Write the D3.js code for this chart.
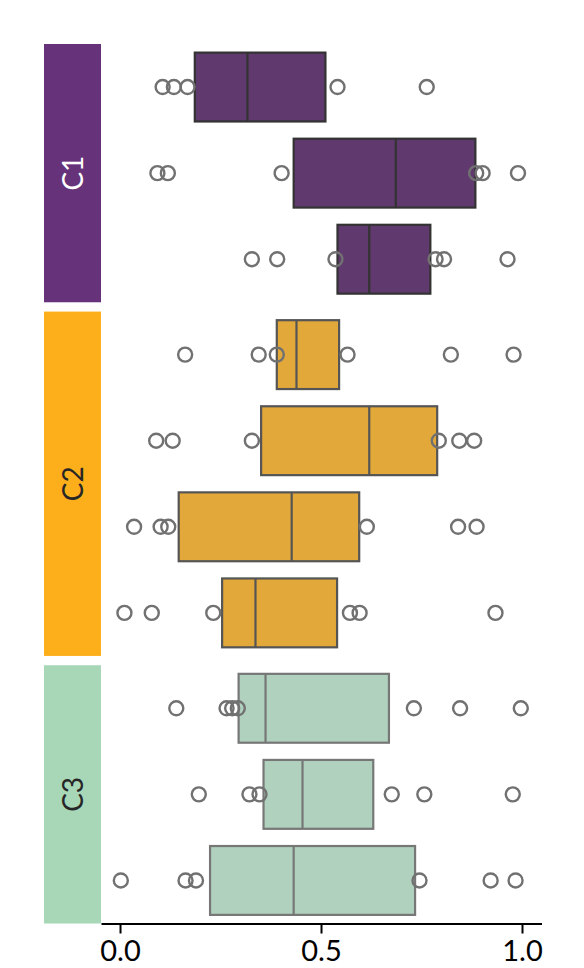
<!DOCTYPE html>
<html>
<head>
<meta charset="utf-8">
<script src="https://cdn.jsdelivr.net/npm/d3@7"></script>
<style>
  body { margin: 0; background: #fff; }
  svg { display: block; font-family: Lato, "DejaVu Sans", sans-serif; }
</style>
</head>
<body>
<div id="chart"></div>
<script>
// groups and the rows that belong to each
var groups = ["C1", "C2", "C3"];
var groupRows = [3, 4, 3];
var groupColors = ["#66327a", "#fcae1b", "#a8d7b8"];
var boxColors = ["#603a6e", "#e2a839", "#afd1bd"];
var edgeColors = ["#333333", "#555555", "#777777"];
var labelColors = ["#ffffff", "#262626", "#262626"];

// one entry per row, top to bottom
var rowGroup = [0, 0, 0, 1, 1, 1, 1, 2, 2, 2];
var q1 = [0.186, 0.432, 0.541, 0.390, 0.351, 0.146, 0.254, 0.295, 0.357, 0.224];
var median = [0.317, 0.686, 0.620, 0.439, 0.620, 0.427, 0.337, 0.362, 0.454, 0.432];
var q3 = [0.511, 0.884, 0.772, 0.545, 0.789, 0.595, 0.540, 0.669, 0.630, 0.734];
var fliers = [
  [0.106, 0.134, 0.168, 0.541, 0.763],
  [0.093, 0.119, 0.402, 0.886, 0.902, 0.990],
  [0.328, 0.391, 0.536, 0.785, 0.806, 0.964],
  [0.162, 0.345, 0.390, 0.566, 0.823, 0.979],
  [0.090, 0.131, 0.328, 0.793, 0.844, 0.881],
  [0.035, 0.101, 0.120, 0.614, 0.841, 0.887],
  [0.011, 0.079, 0.232, 0.572, 0.596, 0.934],
  [0.140, 0.265, 0.279, 0.293, 0.731, 0.846, 0.997],
  [0.196, 0.322, 0.347, 0.676, 0.757, 0.977],
  [0.002, 0.163, 0.189, 0.745, 0.922, 0.984]
];
var xTicks = [0, 0.5, 1];

var width = 584, height = 968;
var plotLeft = 101, plotRight = 541.5, plotTop = 44, plotBottom = 923.5;
var gap = 9.3, stripX = 44, stripW = 57;

var svg = d3.select("#chart").append("svg")
  .attr("width", width)
  .attr("height", height);

var x = d3.scaleLinear()
  .domain([-0.0473, 1.0485])
  .range([plotLeft, plotRight]);

// row height shared by all panels
var totalRows = d3.sum(groupRows);
var rowH = (plotBottom - plotTop - gap * (groups.length - 1)) / totalRows;

var panels = [];
var y0 = plotTop;
groups.forEach(function(g, i) {
  var h = rowH * groupRows[i];
  var idx = d3.range(rowGroup.length).filter(function(r) { return rowGroup[r] === i; });
  var band = d3.scaleBand().domain(idx).range([y0, y0 + h]).paddingInner(0).paddingOuter(0);
  panels.push({ name: g, y: y0, h: h, band: band });
  y0 += h + gap;
});

// group strips on the left
var strips = svg.append("g").selectAll("g")
  .data(panels)
  .enter().append("g");

strips.append("rect")
  .attr("x", stripX)
  .attr("y", function(d) { return d.y; })
  .attr("width", stripW)
  .attr("height", function(d) { return d.h; })
  .style("fill", function(d, i) { return groupColors[i]; });

strips.append("text")
  .attr("transform", function(d) {
    return "translate(" + (stripX + stripW / 2) + "," + (d.y + d.h / 2) + ") rotate(-90)";
  })
  .attr("text-anchor", "middle")
  .attr("dy", "0.36em")
  .style("font-size", "28px")
  .style("fill", function(d, i) { return labelColors[i]; })
  .text(function(d) { return d.name; });

// boxes
var plot = svg.append("g");
var boxW = 0.8;

rowGroup.forEach(function(gi, r) {
  var band = panels[gi].band;
  var cy = band(r) + band.bandwidth() / 2;
  var bh = band.bandwidth() * boxW;
  var row = plot.append("g");

  row.append("rect")
    .attr("x", x(q1[r]))
    .attr("y", cy - bh / 2)
    .attr("width", x(q3[r]) - x(q1[r]))
    .attr("height", bh)
    .style("fill", boxColors[gi])
    .style("stroke", edgeColors[gi])
    .style("stroke-width", 2.2);

  row.append("line")
    .attr("x1", x(median[r]))
    .attr("x2", x(median[r]))
    .attr("y1", cy - bh / 2)
    .attr("y2", cy + bh / 2)
    .style("stroke", edgeColors[gi])
    .style("stroke-width", 2.2);

  row.selectAll("circle")
    .data(fliers[r])
    .enter().append("circle")
    .attr("cx", function(d) { return x(d); })
    .attr("cy", cy)
    .attr("r", 7)
    .style("fill", "none")
    .style("stroke", "#717171")
    .style("stroke-width", 2.4);
});

// x axis
var axis = svg.append("g")
  .attr("transform", "translate(0," + plotBottom + ")")
  .call(d3.axisBottom(x).tickValues(xTicks).tickFormat(d3.format(".1f")).tickSize(10).tickSizeOuter(0).tickPadding(7));

axis.select(".domain").style("stroke", "#000").style("stroke-width", 2);
axis.selectAll(".tick line").style("stroke", "#000").style("stroke-width", 2);
axis.selectAll(".tick text")
  .style("font-family", "Lato, sans-serif")
  .style("font-size", "29px")
  .style("fill", "#000");
</script>
</body>
</html>
